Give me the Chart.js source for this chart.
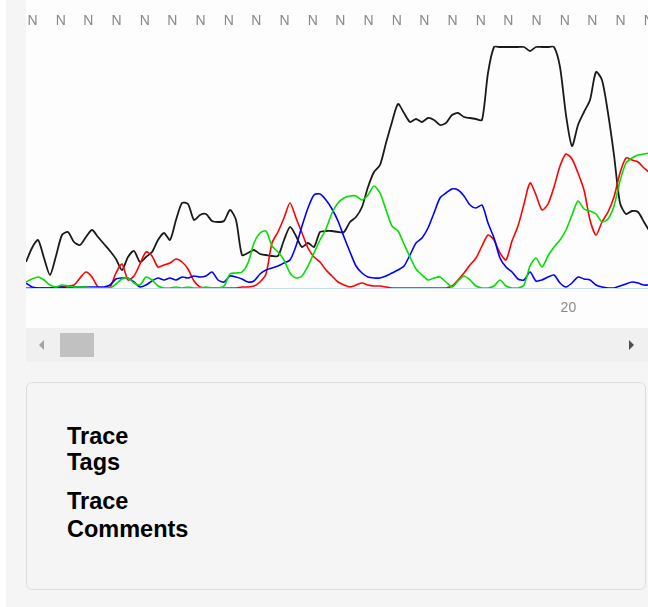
<!DOCTYPE html>
<html>
<head>
<meta charset="utf-8">
<script src="https://cdn.jsdelivr.net/npm/chart.js@4.4.1/dist/chart.umd.min.js"></script>
<style>
html, body { margin: 0; padding: 0; width: 648px; height: 607px; overflow: hidden; background: #fff; font-family: "Liberation Sans", Arial, sans-serif; }
#page { position: absolute; left: 6px; top: 0; width: 642px; height: 607px; background: #f5f5f5; overflow: hidden; }
#trace { position: absolute; left: 20px; top: 0; width: 624px; height: 328px; background: #fdfdfd; }
#scroll { position: absolute; left: 20px; top: 328px; width: 630px; height: 34px; background: #f0f0f0; }
#thumb { position: absolute; left: 34px; top: 5px; width: 34px; height: 24px; background: #c1c1c1; }
.arrow { position: absolute; top: 12px; width: 0; height: 0; border-top: 5px solid transparent; border-bottom: 5px solid transparent; }
#left { left: 13px; border-right: 5px solid #a3a3a3; }
#right { left: 603px; border-left: 5px solid #505050; }
#info { position: absolute; left: 20px; top: 382px; width: 618px; height: 206px; border: 1px solid #dcdcdc; border-radius: 6px; background: #f5f5f5; }
.block { position: absolute; left: 40px; font-weight: bold; font-size: 23.5px; color: #000; }
</style>
</head>
<body>
<div id="page">
  <div id="trace"><canvas id="traceChart" width="624" height="328"></canvas></div>
  <div id="scroll"><div class="arrow" id="left"></div><div id="thumb"></div><div class="arrow" id="right"></div></div>
  <div id="info">
    <div class="block" style="top:40px; line-height:26px;">Trace<br>Tags</div>
    <div class="block" style="top:104px; line-height:28px;">Trace<br>Comments</div>
  </div>
</div>
<script>
// trace intensities, one value per scan sample
const traceG = [26, 40, 48, 30, 13, 32, 53, 56, 46, 43, 51, 58, 51, 44, 37, 29, 18, 31, 37, 26,
  31, 36, 48, 55, 48, 68, 85, 84, 68, 73, 74, 67, 66, 67, 78, 68, 33, 35, 38, 34,
  33, 32, 32, 48, 61, 52, 41, 45, 41, 56, 57, 57, 56, 56, 66, 71, 81, 101, 116, 123,
  145, 166, 184, 175, 166, 169, 166, 170, 168, 163, 165, 173, 175, 171, 170, 169, 168, 215, 241, 241,
  241, 241, 241, 241, 237, 241, 241, 241, 241, 221, 173, 142, 163, 176, 188, 216, 208, 175, 133, 85,
  74, 77, 76, 66, 56];
const traceT = [0, 0, 0, 0, 0, 0, 1, 2, 3, 10, 16, 11, 1, 0, 1, 15, 24, 8, 12, 24,
  36, 32, 21, 23, 25, 29, 26, 19, 7, 1, 0, 0, 0, 0, 0, 0, 1, 1, 2, 6,
  14, 45, 56, 70, 85, 70, 55, 40, 31, 26, 18, 12, 6, 3, 1, 3, 5, 3, 2, 2,
  1, 0, 0, 0, 0, 0, 0, 0, 0, 0, 0, 2, 8, 15, 23, 30, 42, 53, 48, 35,
  28, 47, 62, 84, 105, 93, 78, 84, 101, 122, 134, 129, 115, 98, 68, 53, 66, 76, 91, 115,
  130, 128, 126, 120, 115];
const traceA = [6, 9, 11, 8, 3, 1, 3, 2, 1, 1, 1, 0, 0, 0, 0, 4, 9, 10, 5, 3,
  11, 8, 2, 0, 0, 1, 0, 1, 0, 0, 1, 0, 0, 2, 14, 15, 16, 25, 45, 55,
  57, 42, 36, 28, 15, 10, 12, 22, 35, 48, 59, 75, 85, 90, 92, 92, 88, 93, 102, 95,
  78, 62, 57, 44, 31, 19, 13, 8, 10, 11, 6, 1, 7, 12, 8, 2, 0, 0, 2, 8,
  2, 0, 0, 3, 22, 30, 21, 32, 41, 48, 58, 73, 87, 79, 77, 74, 66, 69, 82, 107,
  125, 130, 133, 134, 135];
const traceC = [5, 1, 0, 0, 0, 1, 1, 0, 1, 1, 1, 1, 1, 1, 3, 9, 10, 10, 6, 1,
  3, 7, 10, 8, 10, 8, 11, 10, 12, 11, 12, 16, 8, 6, 12, 11, 9, 6, 7, 14,
  18, 20, 22, 25, 28, 42, 62, 80, 93, 94, 88, 79, 67, 51, 36, 22, 15, 11, 10, 10,
  12, 15, 18, 22, 33, 45, 50, 60, 75, 90, 95, 99, 98, 92, 83, 80, 83, 65, 50, 30,
  21, 16, 9, 8, 16, 7, 8, 11, 13, 5, 1, 5, 11, 9, 8, 3, 1, 0, 0, 2,
  4, 6, 5, 3, 3];

// called bases and their peak positions (scan units)
const baseCalls = ['N', 'N', 'N', 'N', 'N', 'N', 'N', 'N', 'N', 'N', 'N', 'N',
  'N', 'N', 'N', 'N', 'N', 'N', 'N', 'N', 'N', 'N', 'N'];
const basePositions = [1.1, 5.8, 10.4, 15.1, 19.8, 24.4, 29.1, 33.8, 38.4, 43.1, 47.8, 52.4,
  57.1, 61.8, 66.4, 71.1, 75.8, 80.4, 85.1, 89.8, 94.4, 99.1, 103.8];
// base numbers shown under the trace, and where the label sits (scan units)
const numberedBases = [20];
const numberPositions = [90.4];

const toPoints = arr => arr.map((v, i) => ({ x: i, y: v }));
const lastScan = traceG.length - 1;

function traceSet(label, values, color, width) {
  return {
    label: label,
    data: toPoints(values),
    borderColor: color,
    borderWidth: width,
    pointRadius: 0,
    tension: 0.25,
    fill: false
  };
}

// labels sit at the edges, so don't let them push the plot inwards
function noSidePadding(s, h) {
  s.height = h;
  s.paddingLeft = 0;
  s.paddingRight = 0;
}

const ctx = document.getElementById('traceChart').getContext('2d');
const traceChart = new Chart(ctx, {
  type: 'line',
  data: {
    datasets: [
      traceSet('A', traceA, '#00e000', 1.6),
      traceSet('C', traceC, '#0000ff', 1.6),
      traceSet('T', traceT, '#ff0000', 1.6),
      traceSet('G', traceG, '#1a1a1a', 1.8)
    ]
  },
  options: {
    responsive: false,
    animation: false,
    layout: { padding: 0 },
    plugins: { legend: { display: false }, tooltip: { enabled: false } },
    scales: {
      x: {
        type: 'linear',
        position: 'bottom',
        min: 0,
        max: lastScan,
        grid: { display: false, drawTicks: false },
        border: { display: true, color: '#c9d9f5', width: 1 },
        afterBuildTicks: s => { s.ticks = numberPositions.map(p => ({ value: p })); },
        afterFit: s => noSidePadding(s, 40),
        ticks: {
          autoSkip: false,
          maxRotation: 0,
          padding: 12,
          color: '#888',
          font: { size: 14, family: 'Liberation Sans' },
          callback: (v, i) => String(numberedBases[i])
        }
      },
      bases: {
        type: 'linear',
        position: 'top',
        min: 0,
        max: lastScan,
        grid: { display: false, drawTicks: false },
        border: { display: false },
        afterBuildTicks: s => { s.ticks = basePositions.map(p => ({ value: p })); },
        afterFit: s => noSidePadding(s, 38),
        ticks: {
          autoSkip: false,
          maxRotation: 0,
          padding: 8,
          color: '#888',
          font: { size: 14, family: 'Liberation Sans' },
          callback: (v, i) => baseCalls[i]
        }
      },
      y: { display: false, min: 0, max: 250 }
    }
  }
});
</script>
</body>
</html>
